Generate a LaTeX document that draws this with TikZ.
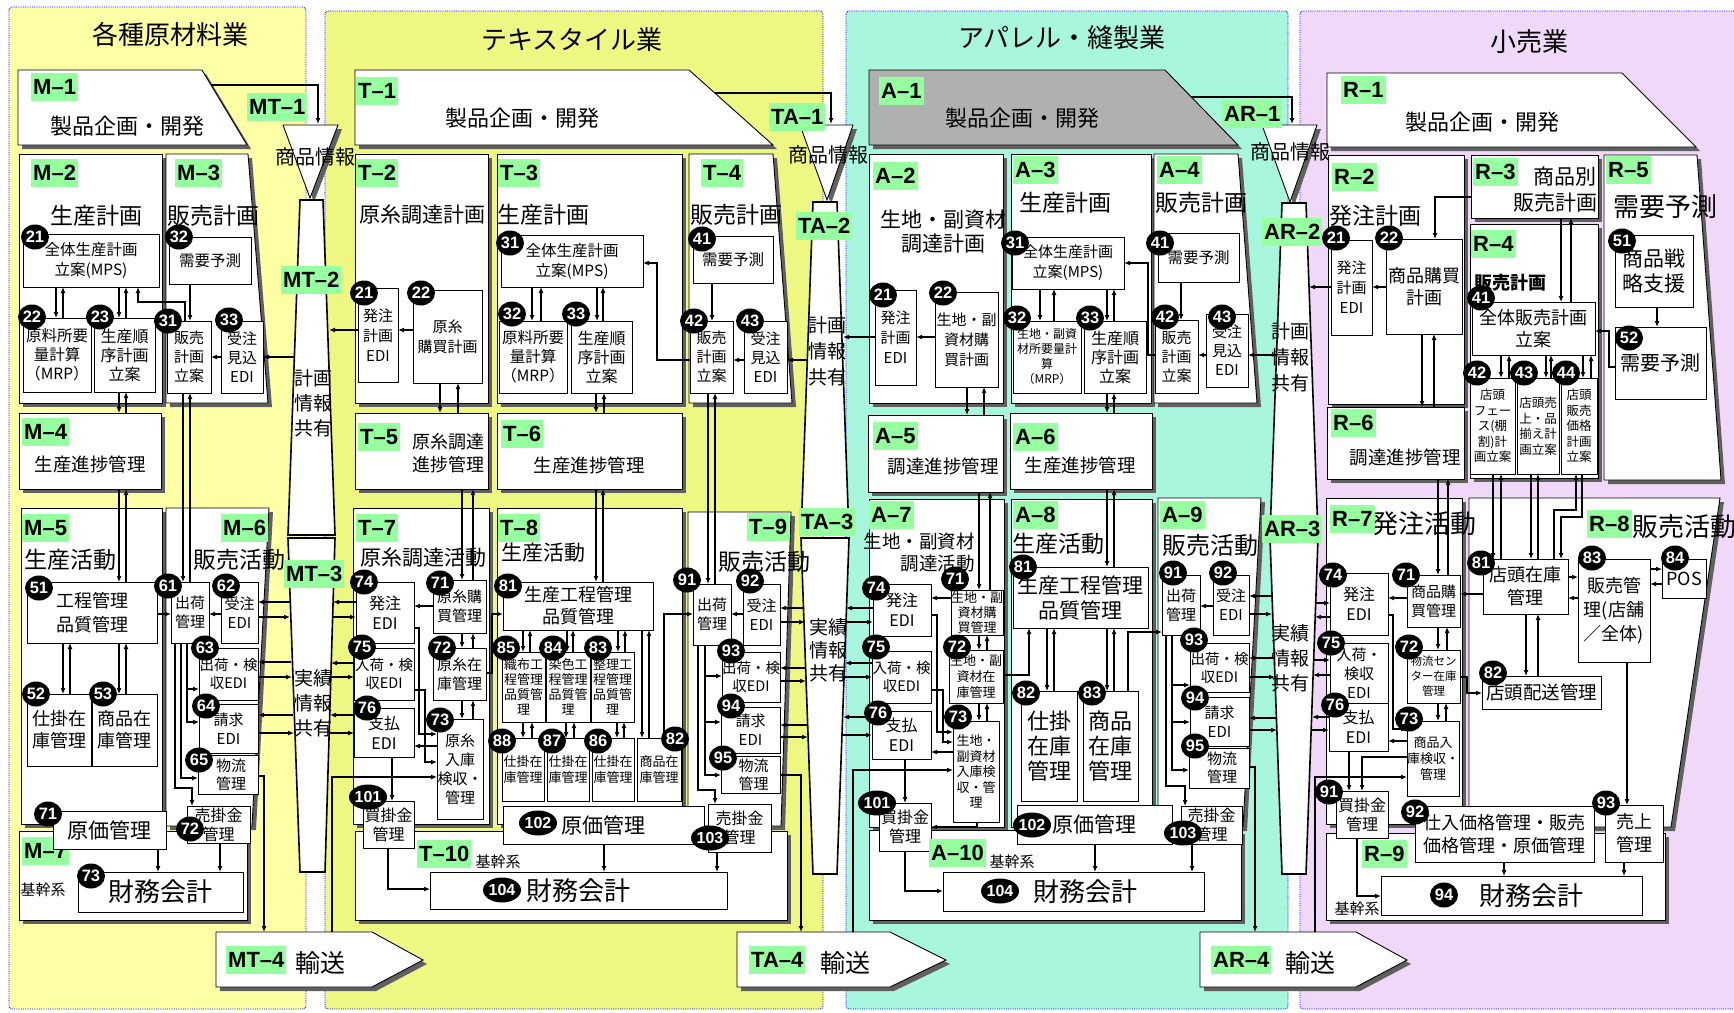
\documentclass[tikz,border=0pt]{standalone}
\usepackage{fontspec}
\setmainfont{Noto Sans CJK JP}
\newfontfamily\labfont{Liberation Sans}
\usetikzlibrary{arrows.meta,shapes.geometric,shadows}
\definecolor{laneA}{RGB}{255,255,165}
\definecolor{laneB}{RGB}{238,247,130}
\definecolor{laneC}{RGB}{168,246,222}
\definecolor{laneD}{RGB}{240,216,248}
\definecolor{lg}{RGB}{150,255,160}
\definecolor{shd}{RGB}{96,96,96}
\definecolor{agray}{RGB}{176,176,176}
\newcommand\fsz[2]{\fontsize{#1pt}{#2pt}\selectfont}
\tikzset{
 bx/.style={draw=black, line width=0.9pt, fill=white, rectangle, inner sep=0pt, outer sep=0pt, align=center},
 sh/.style={drop shadow={shadow xshift=4pt, shadow yshift=-4pt, fill=shd, opacity=1}},
 lbl/.style={fill=lg, font=\labfont\bfseries\fontsize{22pt}{22pt}\selectfont, inner xsep=2pt, inner ysep=0pt, minimum height=28pt, anchor=north west},
 nm/.style={ellipse, fill=black, text=white, font=\labfont\bfseries\fontsize{16.5pt}{16.5pt}\selectfont, inner sep=0pt, minimum width=28pt, minimum height=25pt},
 arr/.style={-{Latex[length=6pt,width=5pt]}, line width=1.2pt},
 colm/.style={draw=black, line width=1.6pt, fill=white},
 tx/.style={inner sep=0pt, align=center},
 lanebd/.style={draw=blue, densely dotted, line width=0.8pt, rounded corners=3pt},
}
\newcommand\bx[7][]{\node[bx,#1,minimum width={#5-#3},minimum height={#6-#4},anchor=north west] (#2) at (#3,#4) {#7};}
\newcommand\shp[2][white]{\fill[shd,shift={(4,4)}] #2; \filldraw[fill=#1,draw=black,line width=0.9pt] #2;}
\newcommand\cnum[4]{\node[nm] (#1) at (#2,#3) {#4};}
\newcommand\cnumw[4]{\node[nm,minimum width=38pt,font=\labfont\bfseries\fontsize{16pt}{16pt}\selectfont] (#1) at (#2,#3) {#4};}
\newcommand\arD[3]{\draw[arr] (#2.south -| #1,0) -- (#3.north -| #1,0);}
\newcommand\arU[3]{\draw[arr] (#3.north -| #1,0) -- (#2.south -| #1,0);}
\newcommand\arP[4]{\arD{#1}{#3}{#4}\arU{#2}{#3}{#4}}
\newcommand\arL[3]{\draw[arr] (#2.west |- 0,#1) -- (#3.east |- 0,#1);}
\newcommand\arR[3]{\draw[arr] (#2.east |- 0,#1) -- (#3.west |- 0,#1);}
\newcommand\gtxt[6]{\node[tx,font=\fsz{#4}{#5}] (#1) at (#2,#3) {#6};}
\newcommand\glab[4]{\node[lbl] (#1) at (#2,#3) {#4};}
\begin{document}
\begin{tikzpicture}[x=1pt,y=-1pt]
\useasboundingbox (0,0) rectangle (1734,1012);
\fill[white] (0,0) rectangle (1734,1012);
% lanes
\fill[laneA,rounded corners=3pt] (9,7) rectangle (306,1009);
\draw[lanebd] (9,7) rectangle (306,1009);
\fill[laneB,rounded corners=3pt] (325,11) rectangle (823,1009);
\draw[lanebd] (325,11) rectangle (823,1009);
\fill[laneC,rounded corners=3pt] (846,11) rectangle (1288,1009);
\draw[lanebd] (846,11) rectangle (1288,1009);
\fill[laneD,rounded corners=3pt] (1300,11) rectangle (1760,1009);
\draw[lanebd] (1300,11) rectangle (1760,1009);
\gtxt{ttlM}{170}{35}{26}{30}{各種原材料業}
\gtxt{ttlT}{572}{40}{26}{30}{テキスタイル業}
\gtxt{ttlA}{1062}{38}{26}{30}{アパレル・縫製業}
\gtxt{ttlR}{1529}{42}{26}{30}{小売業}

% ===== big shapes =====
\shp{(18,70)--(202,70)--(247,145)--(18,145)--cycle}
\shp{(355,70)--(689,70)--(773,145)--(355,145)--cycle}
\shp[agray]{(869,70)--(1165,70)--(1238,145)--(869,145)--cycle}
\shp{(1327,73)--(1622,73)--(1696,147)--(1327,147)--cycle}
\shp{(283,125)--(338,125)--(310,198)--cycle}
\shp{(800,125)--(853,125)--(827,200)--cycle}
\shp{(1262,125)--(1317,125)--(1290,202)--cycle}
\draw[colm] (300,200)--(323,200)--(335,535)--(288,535)--cycle;
\draw[colm] (288,538)--(335,538)--(325,872)--(300,872)--cycle;
\draw[colm] (813,202)--(837,202)--(849,535)--(801,535)--cycle;
\draw[colm] (801,538)--(849,538)--(837,874)--(813,874)--cycle;
\draw[colm] (1282,203)--(1306,203)--(1318,535)--(1270,535)--cycle;
\draw[colm] (1270,538)--(1318,538)--(1306,874)--(1282,874)--cycle;
\shp{(216,932)--(372,932)--(423,960)--(372,987)--(216,987)--cycle}
\shp{(737,932)--(890,932)--(946,960)--(890,987)--(737,987)--cycle}
\shp{(1200,932)--(1356,932)--(1407,960)--(1356,987)--(1200,987)--cycle}

% ===== outer boxes =====
\bx[sh]{M2}{19}{154}{162}{403}{}
\shp{(166,154)--(248,154)--(268,403)--(166,403)--cycle}
\bx[sh]{M4}{19}{413}{161}{489}{}
\bx[sh]{M5}{21}{508}{162}{824}{}
\shp{(166,508)--(269,508)--(252,826)--(166,826)--cycle}
\bx[sh]{M7}{19}{831}{247}{920}{}
\glab{lM7}{22}{837}{M–7}

\bx[sh]{T2}{355}{154}{488}{403}{}
\bx[sh]{T3}{497}{154}{682}{403}{}
\shp{(689,154)--(773,154)--(792,403)--(689,403)--cycle}
\bx[sh]{T5}{355}{413}{488}{489}{}
\bx[sh]{T6}{497}{413}{682}{489}{}
\bx[sh]{T7}{353}{508}{489}{824}{}
\bx[sh]{T8}{497}{508}{682}{824}{}
\shp{(688,512)--(791,512)--(781,826)--(688,826)--cycle}
\bx[sh]{T10}{355}{831}{787}{920}{}

\bx[sh]{A2}{869}{154}{1003}{403}{}
\bx[sh]{A3}{1011}{154}{1151}{403}{}
\shp{(1154,154)--(1238,154)--(1257,403)--(1154,403)--cycle}
\bx[sh]{A5}{868}{415}{1003}{492}{}
\bx[sh]{A6}{1010}{413}{1152}{489}{}
\bx[sh]{A7}{869}{499}{1004}{827}{}
\bx[sh]{A8}{1011}{499}{1152}{827}{}
\shp{(1158,498)--(1261,498)--(1243,827)--(1158,827)--cycle}
\bx[sh]{A10}{869}{830}{1241}{920}{}

\bx[sh]{R2}{1328}{155}{1464}{404}{}
\bx[sh]{R3}{1471}{155}{1598}{218}{}
\bx[sh]{R4}{1470}{224}{1598}{478}{}
\shp{(1604,155)--(1697,155)--(1721,480)--(1604,480)--cycle}
\bx[sh]{R6}{1327}{407}{1464}{479}{}
\bx[sh]{R7}{1326}{498}{1462}{824}{}
\shp{(1469,498)--(1720,498)--(1671,827)--(1469,827)--cycle}
\bx[sh]{R9}{1326}{833}{1665}{920}{}

% ===== inner boxes M =====
\bx[font=\fsz{15.5}{20}]{M21}{23}{234}{159}{287}{全体生産計画\\立案(MPS)}
\bx[font=\fsz{15.5}{20}]{M32}{169}{237}{251}{284}{需要予測}
\bx[font=\fsz{15.5}{19}]{M22}{23}{318}{91}{392}{原料所要\\量計算\\（MRP）}
\bx[font=\fsz{16}{19}]{M23}{94}{318}{155}{392}{生産順\\序計画\\立案}
\bx[font=\fsz{15}{19}]{M31}{167}{321}{211}{393}{販売\\計画\\立案}
\bx[font=\fsz{15}{19}]{M33}{221}{321}{263}{393}{受注\\見込\\EDI}
\bx[font=\fsz{18}{24}]{M51}{27}{582}{157}{643}{工程管理\\品質管理}
\bx[font=\fsz{18}{22}]{M52}{27}{694}{91}{766}{仕掛在\\庫管理}
\bx[font=\fsz{18}{22}]{M53}{92}{694}{157}{766}{商品在\\庫管理}
\bx[font=\fsz{15}{19}]{M61}{171}{582}{209}{643}{出荷\\管理}
\bx[font=\fsz{15}{19}]{M62}{221}{582}{258}{643}{受注\\EDI}
\bx[font=\fsz{14.5}{18}]{M63}{199}{648}{258}{700}{出荷・検\\収EDI}
\bx[font=\fsz{15}{19}]{M64}{199}{704}{258}{753}{請求\\EDI}
\bx[font=\fsz{15}{18}]{M65}{198}{755}{258}{794}{\hspace*{6pt}物流\\\hspace*{6pt}管理}
\bx[font=\fsz{16}{19}]{M72}{187}{806}{250}{843}{売掛金\\管理}
\bx[font=\fsz{21}{24}]{M71}{53}{811}{166}{849}{原価管理}
\bx[font=\fsz{26}{30}]{M73}{78}{872}{243}{912}{財務会計}

% ===== inner boxes T =====
\bx[font=\fsz{15}{20}]{T21}{358}{288}{398}{382}{発注\\計画\\EDI}
\bx[font=\fsz{15}{20}]{T22}{413}{290}{482}{383}{原糸\\購買計画}
\bx[font=\fsz{15.5}{20}]{T31}{501}{235}{643}{287}{全体生産計画\\立案(MPS)}
\bx[font=\fsz{15.5}{19}]{T32}{499}{321}{567}{393}{原料所要\\量計算\\（MRP）}
\bx[font=\fsz{16}{19}]{T33}{571}{321}{632}{393}{生産順\\序計画\\立案}
\bx[font=\fsz{15.5}{20}]{T41}{693}{236}{773}{283}{需要予測}
\bx[font=\fsz{15}{19}]{T42}{690}{321}{733}{393}{販売\\計画\\立案}
\bx[font=\fsz{15}{19}]{T43}{744}{321}{787}{393}{受注\\見込\\EDI}
\bx[font=\fsz{16}{20}]{T74}{356}{582}{414}{643}{発注\\EDI}
\bx[font=\fsz{15}{19}]{T71}{433}{580}{486}{633}{原糸購\\買管理}
\bx[font=\fsz{14.5}{18}]{T75}{354}{648}{414}{700}{入荷・検\\収EDI}
\bx[font=\fsz{16}{20}]{T76}{354}{708}{414}{757}{支払\\EDI}
\bx[font=\fsz{15}{19}]{T72}{433}{648}{486}{700}{原糸在\\庫管理}
\bx[font=\fsz{15}{19}]{T73}{437}{719}{483}{819}{原糸\\入庫\\検収・\\管理}
\bx[font=\fsz{16}{19}]{T101}{363}{801}{414}{848}{買掛金\\管理}
\bx[font=\fsz{21}{24}]{T102}{503}{806}{704}{844}{原価管理}
\bx[font=\fsz{16}{19}]{T103}{708}{804}{771}{852}{売掛金\\管理}
\bx[font=\fsz{26}{30}]{T104}{430}{872}{727}{909}{財務会計}
\bx[font=\fsz{18}{22}]{T81}{503}{582}{653}{630}{生産工程管理\\品質管理}
\bx[font=\fsz{13}{15}]{T85}{502}{652}{545}{722}{織布工\\程管理\\品質管\\理}
\bx[font=\fsz{13}{15}]{T84}{546}{652}{590}{722}{染色工\\程管理\\品質管\\理}
\bx[font=\fsz{13}{15}]{T83}{591}{652}{634}{722}{整理工\\程管理\\品質管\\理}
\bx[font=\fsz{13}{16}]{T88}{502}{738}{544}{801}{仕掛在\\庫管理}
\bx[font=\fsz{13}{16}]{T87}{547}{738}{589}{801}{仕掛在\\庫管理}
\bx[font=\fsz{13}{16}]{T86}{592}{738}{634}{801}{仕掛在\\庫管理}
\bx[font=\fsz{13}{16}]{T82}{637}{738}{681}{801}{商品在\\庫管理}
\bx[font=\fsz{15}{19}]{T91}{693}{584}{731}{645}{出荷\\管理}
\bx[font=\fsz{15}{19}]{T92}{743}{584}{780}{645}{受注\\EDI}
\bx[font=\fsz{14.5}{18}]{T93}{722}{652}{779}{702}{出荷・検\\収EDI}
\bx[font=\fsz{15}{19}]{T94}{721}{707}{780}{753}{請求\\EDI}
\bx[font=\fsz{15}{18}]{T95}{721}{756}{780}{793}{\hspace*{6pt}物流\\\hspace*{6pt}管理}

% ===== inner boxes A =====
\bx[font=\fsz{15}{20}]{A21}{875}{290}{916}{385}{発注\\計画\\EDI}
\bx[font=\fsz{15}{20}]{A22}{935}{292}{998}{387}{生地・副\\資材購\\買計画}
\bx[font=\fsz{15}{20}]{A31}{1012}{237}{1124}{289}{全体生産計画\\立案(MPS)}
\bx[font=\fsz{12}{15}]{A32}{1013}{321}{1081}{393}{生地・副資\\材所要量計\\算\\（MRP）}
\bx[font=\fsz{16}{19}]{A33}{1084}{321}{1146}{393}{生産順\\序計画\\立案}
\bx[font=\fsz{15.5}{20}]{A41}{1158}{233}{1239}{282}{需要予測}
\bx[font=\fsz{15}{19}]{A42}{1155}{320}{1198}{393}{販売\\計画\\立案}
\bx[font=\fsz{15}{19}]{A43}{1206}{314}{1248}{387}{受注\\見込\\EDI}
\bx[font=\fsz{16}{20}]{A74}{873}{584}{931}{636}{発注\\EDI}
\bx[font=\fsz{13}{15}]{A71}{951}{590}{1003}{635}{生地・副\\資材購\\買管理}
\bx[font=\fsz{13}{16}]{A72}{949}{650}{1003}{703}{生地・副\\資材在\\庫管理}
\bx[font=\fsz{14.5}{18}]{A75}{872}{651}{931}{703}{入荷・検\\収EDI}
\bx[font=\fsz{16}{20}]{A76}{872}{711}{931}{759}{支払\\EDI}
\bx[font=\fsz{13}{15.5}]{A73}{953}{721}{999}{822}{生地・\\副資材\\入庫検\\収・管\\理}
\bx[font=\fsz{16}{19}]{A101}{879}{803}{931}{851}{買掛金\\管理}
\bx[font=\fsz{21}{24}]{A102}{1017}{805}{1172}{844}{原価管理}
\bx[font=\fsz{16}{19}]{A103}{1181}{806}{1242}{844}{売掛金\\管理}
\bx[font=\fsz{26}{30}]{A104}{943}{872}{1204}{911}{\hspace*{24pt}財務会計}
\bx[font=\fsz{21}{25}]{A81}{1013}{567}{1148}{628}{生産工程管理\\品質管理}
\bx[font=\fsz{22}{25}]{A82}{1021}{691}{1077}{801}{仕掛\\在庫\\管理}
\bx[font=\fsz{22}{25}]{A83}{1083}{691}{1138}{801}{商品\\在庫\\管理}
\bx[font=\fsz{15}{19}]{A91}{1162}{575}{1200}{635}{出荷\\管理}
\bx[font=\fsz{15}{19}]{A92}{1213}{575}{1249}{635}{受注\\EDI}
\bx[font=\fsz{14.5}{18}]{A93}{1190}{643}{1249}{692}{出荷・検\\収EDI}
\bx[font=\fsz{15}{19}]{A94}{1190}{697}{1249}{746}{請求\\EDI}
\bx[font=\fsz{15}{18}]{A95}{1189}{748}{1249}{788}{\hspace*{6pt}物流\\\hspace*{6pt}管理}

% ===== inner boxes R =====
\bx[font=\fsz{15}{20}]{R21}{1331}{240}{1372}{335}{発注\\計画\\EDI}
\bx[font=\fsz{18}{22}]{R22}{1386}{239}{1462}{334}{商品購買\\計画}
\bx[font=\fsz{18}{22}]{R41}{1472}{302}{1595}{355}{全体販売計画\\立案}
\bx[font=\fsz{12.5}{15.5}]{R42}{1470}{378}{1515}{474}{店頭\\フェー\\ス(棚\\割)計\\画立案}
\bx[font=\fsz{12.5}{15.5}]{R43}{1517}{378}{1559}{474}{店頭売\\上・品\\揃え計\\画立案}
\bx[font=\fsz{12.5}{15.5}]{R44}{1561}{378}{1597}{474}{店頭\\販売\\価格\\計画\\立案}
\bx[font=\fsz{21}{25}]{R51}{1615}{235}{1693}{307}{商品戦\\略支援}
\bx[font=\fsz{20}{24}]{R52}{1615}{327}{1706}{399}{需要予測}
\bx[font=\fsz{16}{20}]{R74}{1330}{573}{1388}{635}{発注\\EDI}
\bx[font=\fsz{15}{19}]{R71}{1407}{575}{1460}{627}{商品購\\買管理}
\bx[font=\fsz{15}{19}]{R75}{1330}{643}{1388}{703}{入荷・\\検収\\EDI}
\bx[font=\fsz{11.5}{15}]{R72}{1407}{650}{1460}{703}{物流セン\\ター在庫\\管理}
\bx[font=\fsz{16}{20}]{R76}{1329}{703}{1388}{751}{支払\\EDI}
\bx[font=\fsz{13}{16}]{R73}{1407}{721}{1457}{796}{商品入\\庫検収・\\管理}
\bx[font=\fsz{16}{19}]{R91}{1336}{791}{1388}{838}{買掛金\\管理}
\bx[font=\fsz{18}{23}]{R81}{1483}{559}{1568}{614}{店頭在庫\\管理}
\bx[font=\fsz{18}{24}]{R83}{1578}{559}{1650}{662}{販売管\\理(店舗\\／全体)}
\bx[font=\fsz{18}{22}]{R84}{1662}{559}{1706}{598}{POS}
\bx[font=\fsz{18.5}{22}]{R82}{1482}{676}{1601}{709}{店頭配送管理}
\bx[font=\fsz{18}{23}]{R92}{1415}{806}{1594}{862}{仕入価格管理・販売\\価格管理・原価管理}
\bx[font=\fsz{18}{23}]{R93}{1605}{805}{1663}{862}{売上\\管理}
\bx[font=\fsz{26}{30}]{R94}{1381}{876}{1642}{915}{\hspace*{40pt}財務会計}

% ===== connectors M =====
\coordinate (mt1a) at (211,85); \coordinate (mt1b) at (318,124);
\draw[arr] (mt1a) -| (mt1b);
\arP{56}{63}{M21}{M22}
\arP{119}{126}{M21}{M23}
\draw[arr] (M31.north -| 185,0) |- (138,302) -- (M21.south -| 138,0);
\arD{190}{M32}{M31}
\arL{357}{M33}{M31}
\draw[arr] (294,357) -- (M33.east |- 0,357);
\arP{119}{126}{M23}{M4}
\arP{119}{126}{M4}{M51}
\arP{183}{190}{M31}{M61}
\arR{614}{M51}{M61}
\arP{63}{70}{M51}{M52}
\arP{119}{126}{M51}{M53}
\arL{614}{M62}{M61}
\draw[arr] (290,602) -- (M62.east |- 0,602);
\draw[arr] (M62.east |- 0,617) -- (290,617);
\draw[arr] (291,662) -- (M63.east |- 0,662);
\draw[arr] (M63.east |- 0,677) -- (292,677);
\draw[arr] (293,715) -- (M64.east |- 0,715);
\draw[arr] (M64.east |- 0,733) -- (294,733);
\coordinate (mt4a) at (264,932);
\draw[arr] (M65.east |- 0,776) -| (mt4a);
\draw[arr] (M61.south -| 187,0) |- (M63.west |- 0,689);
\draw[arr] (M61.south -| 187,0) |- (M64.west |- 0,722);
\draw[arr] (M61.south -| 181,0) |- (M65.west |- 0,778);
\draw[arr] (M61.south -| 175,0) |- (192,788) -- (M72.north -| 192,0);
\arD{158}{M71}{M73}
\arD{220}{M72}{M73}

% ===== connectors T =====
\coordinate (ta1a) at (715,93); \coordinate (ta1b) at (831,124);
\draw[arr] (ta1a) -| (ta1b);
\arL{330}{T22}{T21}
\draw[arr] (T21.west |- 0,330) -- (329,330);
\arP{440}{458}{T22}{T5}
\arP{532}{541}{T31}{T32}
\arP{597}{603}{T31}{T33}
\arD{712}{T41}{T42}
\arL{360}{T43}{T42}
\draw[arr] (808,360) -- (T43.east |- 0,360);
\draw[arr] (T42.west |- 0,360) -| (657,263) -- (T31.east |- 0,263);
\arP{596}{604}{T33}{T6}
\arP{708}{715}{T42}{T91}
\arP{462}{473}{T5}{T71}
\arP{596}{603}{T6}{T81}
\arL{606}{T71}{T74}
\draw[arr] (T74.west |- 0,602) -- (333,602);
\draw[arr] (333,617) -- (T74.west |- 0,617);
\draw[arr] (T75.west |- 0,663) -- (331,663);
\draw[arr] (331,677) -- (T75.west |- 0,677);
\draw[arr] (T76.west |- 0,715) -- (330,715);
\draw[arr] (329,733) -- (T76.west |- 0,733);
\arP{462}{473}{T71}{T72}
\arP{462}{473}{T72}{T73}
\draw[arr] (T74.east |- 0,628) -| (419,734) -- (T73.west |- 0,734);
\draw[arr] (T75.east |- 0,690) -| (425,762) -- (T73.west |- 0,762);
\arL{746}{T73}{T76}
\coordinate (mt4b) at (332,932);
\draw[arr] (mt4b) |- (T73.west |- 0,777);
\arD{392}{T76}{T101}
\arD{604}{T102}{T104}
\arD{717}{T103}{T104}
\draw[arr] (T101.south -| 388,0) |- (T104.west |- 0,889);
\draw[arr] (T72.east |- 0,673) -| (492,614) -- (T81.west |- 0,614);
\arP{523}{530}{T81}{T85}
\arP{567}{573}{T81}{T84}
\arP{618}{625}{T81}{T83}
\arP{523}{532}{T85}{T88}
\arP{566}{574}{T84}{T87}
\arP{617}{624}{T83}{T86}
\arP{642}{649}{T81}{T82}
\draw[arr] (T82.north -| 664,0) |- (T91.west |- 0,614);
\arL{614}{T92}{T91}
\draw[arr] (804,608) -- (T92.east |- 0,608);
\draw[arr] (T92.east |- 0,622) -- (805,622);
\draw[arr] (805,668) -- (T93.east |- 0,668);
\draw[arr] (T93.east |- 0,681) -- (806,681);
\draw[arr] (807,725) -- (T94.east |- 0,725);
\draw[arr] (T94.east |- 0,737) -- (808,737);
\coordinate (ta4a) at (801,932);
\draw[arr] (T95.east |- 0,775) -| (ta4a);
\draw[arr] (T91.south -| 705,0) |- (T93.west |- 0,676);
\draw[arr] (T91.south -| 705,0) |- (T94.west |- 0,722);
\draw[arr] (T91.south -| 705,0) |- (T95.west |- 0,775);
\draw[arr] (T91.south -| 698,0) |- (715,790) -- (T103.north -| 715,0);

% ===== connectors A =====
\coordinate (ar1a) at (1191,97); \coordinate (ar1b) at (1292,124);
\draw[arr] (ar1a) -| (ar1b);
\arL{337}{A22}{A21}
\draw[arr] (A21.west |- 0,337) -- (843,337);
\arP{1040}{1054}{A31}{A32}
\arP{1107}{1114}{A31}{A33}
\arD{1181}{A41}{A42}
\arL{355}{A43}{A42}
\draw[arr] (1277,355) -- (A43.east |- 0,355);
\draw[arr] (A42.west |- 0,355) -| (1148,263) -- (A31.east |- 0,263);
\arP{967}{984}{A22}{A5}
\arP{1107}{1114}{A33}{A6}
\arP{979}{990}{A5}{A71}
\arP{1107}{1114}{A6}{A81}
\arL{598}{A71}{A74}
\draw[arr] (A74.west |- 0,608) -- (846,608);
\draw[arr] (847,622) -- (A74.west |- 0,622);
\draw[arr] (A75.west |- 0,663) -- (845,663);
\draw[arr] (845,677) -- (A75.west |- 0,677);
\draw[arr] (A76.west |- 0,717) -- (843,717);
\draw[arr] (842,735) -- (A76.west |- 0,735);
\arP{979}{987}{A71}{A72}
\arP{979}{987}{A72}{A73}
\draw[arr] (A74.east |- 0,615) -| (937,732) -- (A73.west |- 0,732);
\draw[arr] (A75.east |- 0,690) -| (943,742) -- (A73.west |- 0,742);
\arL{752}{A73}{A76}
\coordinate (ta4b) at (853,932);
\draw[arr] (ta4b) |- (A73.west |- 0,770);
\arD{905}{A76}{A101}
\draw[arr] (A73.south -| 977,0) |- (A101.east |- 0,827);
\arD{1095}{A102}{A104}
\arD{1192}{A103}{A104}
\draw[arr] (A101.south -| 905,0) |- (A104.west |- 0,891);
\draw[arr] (A72.east |- 0,675) -| (A81.south -| 1029,0);
\arP{1047}{1054}{A81}{A82}
\arP{1107}{1114}{A81}{A83}
\draw[arr] (A83.north -| 1128,0) |- (A91.west |- 0,632);
\arL{606}{A92}{A91}
\draw[arr] (1272,596) -- (A92.east |- 0,596);
\draw[arr] (A92.east |- 0,614) -- (1272,614);
\draw[arr] (1274,658) -- (A93.east |- 0,658);
\draw[arr] (A93.east |- 0,677) -- (1275,677);
\draw[arr] (1276,718) -- (A94.east |- 0,718);
\draw[arr] (A94.east |- 0,730) -- (1277,730);
\coordinate (ar4a) at (1255,932);
\draw[arr] (A95.east |- 0,767) -| (ar4a);
\draw[arr] (A91.south -| 1172,0) |- (A93.west |- 0,685);
\draw[arr] (A91.south -| 1172,0) |- (A94.west |- 0,722);
\draw[arr] (A91.south -| 1172,0) |- (A95.west |- 0,770);
\draw[arr] (A91.south -| 1166,0) |- (1185,786) -- (A103.north -| 1185,0);

% ===== connectors R =====
\arL{287}{R22}{R21}
\draw[arr] (R21.west |- 0,287) -- (1309,287);
\draw[arr] (R3.west |- 0,197) -| (R22.north -| 1435,0);
\arP{1561}{1571}{R3}{R41}
\arD{1657}{R51}{R52}
\draw[arr] (R52.west |- 0,367) -| (1609,331) -- (R41.east |- 0,331);
\arP{1501}{1509}{R41}{R42}
\arP{1546}{1551}{R41}{R43}
\arP{1583}{1591}{R41}{R44}
\arP{1422}{1434}{R22}{R6}
\arP{1438}{1448}{R6}{R71}
\arL{598}{R71}{R74}
\draw[arr] (1316,603) -- (R74.west |- 0,603);
\draw[arr] (R74.west |- 0,617) -- (1315,617);
\draw[arr] (1314,660) -- (R75.west |- 0,660);
\draw[arr] (R75.west |- 0,675) -- (1313,675);
\draw[arr] (R76.west |- 0,717) -- (1312,717);
\draw[arr] (1311,730) -- (R76.west |- 0,730);
\arP{1438}{1447}{R71}{R72}
\arP{1438}{1446}{R72}{R73}
\arL{741}{R73}{R76}
\draw[arr] (R74.east |- 0,615) -| (1393,729) -- (R73.west |- 0,729);
\arD{1349}{R76}{R91}
\draw[arr] (R73.west |- 0,757) -| (R91.north -| 1362,0);
\coordinate (ar4b) at (1315,932);
\draw[arr] (ar4b) |- (R73.west |- 0,777);
\arL{594}{R81}{R71}
\arR{577}{R81}{R83}
\arL{598}{R83}{R81}
\arR{569}{R83}{R84}
\arL{584}{R84}{R83}
\arP{1526}{1538}{R81}{R82}
\draw[arr] (R72.east |- 0,677) -| (1467,693) -- (R82.west |- 0,693);
\arP{1493}{1501}{R42}{R81}
\arP{1531}{1538}{R43}{R81}
\draw[arr] (R44.south -| 1582,0) |- (1561,517) -- (R81.north -| 1561,0);
\draw[arr] (R81.north -| 1554,0) |- (1576,510) -- (R44.south -| 1576,0);
\arD{1627}{R83}{R93}
\arD{1504}{R92}{R94}
\arD{1624}{R93}{R94}
\draw[arr] (R91.south -| 1357,0) |- (R94.west |- 0,896);

% ===== number circles =====
\cnum{cM21}{35}{237}{21}\cnum{cM32}{179}{237}{32}\cnum{cM22}{32}{317}{22}\cnum{cM23}{100}{317}{23}
\cnum{cM31}{168}{321}{31}\cnum{cM33}{229}{320}{33}\cnum{cM51}{39}{588}{51}\cnum{cM52}{36}{694}{52}
\cnum{cM53}{103}{694}{53}\cnum{cM61}{168}{586}{61}\cnum{cM62}{226}{586}{62}\cnum{cM63}{205}{648}{63}
\cnum{cM64}{206}{706}{64}\cnum{cM65}{199}{760}{65}\cnum{cM72}{190}{829}{72}\cnum{cM71}{48}{814}{71}
\cnum{cM73}{91}{876}{73}
\cnum{cT21}{364}{293}{21}\cnum{cT22}{421}{293}{22}\cnum{cT31}{510}{243}{31}\cnum{cT32}{512}{314}{32}
\cnum{cT33}{576}{314}{33}\cnum{cT41}{702}{239}{41}\cnum{cT42}{694}{321}{42}\cnum{cT43}{750}{321}{43}
\cnum{cT74}{364}{582}{74}\cnum{cT71}{440}{583}{71}\cnum{cT75}{362}{647}{75}\cnum{cT72}{442}{648}{72}
\cnum{cT76}{367}{708}{76}\cnum{cT73}{440}{720}{73}
\cnumw{cT101}{368}{797}{101}\cnumw{cT102}{538}{823}{102}\cnumw{cT103}{710}{838}{103}\cnumw{cT104}{502}{890}{104}
\cnum{cT81}{508}{586}{81}\cnum{cT85}{506}{648}{85}\cnum{cT84}{553}{648}{84}\cnum{cT83}{598}{648}{83}
\cnum{cT88}{502}{741}{88}\cnum{cT87}{552}{741}{87}\cnum{cT86}{598}{741}{86}\cnum{cT82}{675}{739}{82}
\cnum{cT91}{687}{580}{91}\cnum{cT92}{750}{581}{92}\cnum{cT93}{731}{651}{93}\cnum{cT94}{731}{706}{94}
\cnum{cT95}{723}{758}{95}
\cnum{cA21}{883}{295}{21}\cnum{cA22}{943}{293}{22}\cnum{cA31}{1015}{243}{31}\cnum{cA32}{1017}{318}{32}
\cnum{cA33}{1090}{318}{33}\cnum{cA41}{1160}{243}{41}\cnum{cA42}{1165}{317}{42}\cnum{cA43}{1222}{317}{43}
\cnum{cA74}{876}{588}{74}\cnum{cA71}{955}{579}{71}\cnum{cA72}{957}{647}{72}\cnum{cA75}{876}{647}{75}
\cnum{cA76}{878}{713}{76}\cnum{cA73}{958}{717}{73}
\cnumw{cA101}{877}{803}{101}\cnumw{cA102}{1032}{825}{102}\cnumw{cA103}{1183}{833}{103}\cnumw{cA104}{1000}{891}{104}
\cnum{cA81}{1023}{567}{81}\cnum{cA82}{1026}{693}{82}\cnum{cA83}{1092}{693}{83}\cnum{cA91}{1173}{573}{91}
\cnum{cA92}{1223}{573}{92}\cnum{cA93}{1194}{640}{93}\cnum{cA94}{1195}{698}{94}\cnum{cA95}{1195}{746}{95}
\cnum{cR21}{1336}{238}{21}\cnum{cR22}{1389}{238}{22}\cnum{cR41}{1481}{298}{41}\cnum{cR42}{1477}{373}{42}
\cnum{cR43}{1524}{373}{43}\cnum{cR44}{1566}{373}{44}\cnum{cR51}{1622}{241}{51}\cnum{cR52}{1629}{338}{52}
\cnum{cR74}{1333}{575}{74}\cnum{cR71}{1406}{575}{71}\cnum{cR75}{1331}{643}{75}\cnum{cR72}{1409}{647}{72}
\cnum{cR76}{1335}{705}{76}\cnum{cR73}{1409}{719}{73}\cnum{cR91}{1329}{792}{91}\cnum{cR81}{1481}{563}{81}
\cnum{cR83}{1592}{558}{83}\cnum{cR84}{1675}{558}{84}\cnum{cR82}{1493}{673}{82}\cnum{cR92}{1415}{812}{92}
\cnum{cR93}{1606}{803}{93}\cnum{cR94}{1444}{895}{94}

% ===== group texts =====
\gtxt{xM1}{127}{126}{22}{26}{製品企画・開発}
\gtxt{xMT1}{315}{157}{20}{24}{商品情報}
\gtxt{xMT2}{313}{403}{19}{25}{計画\\情報\\共有}
\gtxt{xMT3}{313}{703}{19}{25}{実績\\情報\\共有}
\gtxt{xMT4}{320}{963}{25}{28}{輸送}
\gtxt{xM2}{96}{216}{23}{27}{生産計画}
\gtxt{xM3}{213}{216}{23}{27}{販売計画}
\gtxt{xM4}{90}{464}{18.5}{22}{生産進捗管理}
\gtxt{xM5}{70}{560}{23}{27}{生産活動}
\gtxt{xM6}{239}{560}{23}{27}{販売活動}
\gtxt{xM7}{43}{890}{15}{18}{基幹系}

\gtxt{xT1}{522}{118}{22}{26}{製品企画・開発}
\gtxt{xTA1}{828}{155}{20}{24}{商品情報}
\gtxt{xTA2}{827}{351}{19}{26}{計画\\情報\\共有}
\gtxt{xTA3}{828}{650}{19}{23}{実績\\情報\\共有}
\gtxt{xTA4}{845}{963}{25}{28}{輸送}
\gtxt{xT2}{422}{215}{21}{25}{原糸調達計画}
\gtxt{xT3}{543}{215}{23}{27}{生産計画}
\gtxt{xT4}{736}{215}{23}{27}{販売計画}
\gtxt{xT5}{448}{453}{18}{23}{原糸調達\\進捗管理}
\gtxt{xT6}{589}{465}{18.5}{22}{生産進捗管理}
\gtxt{xT7}{423}{558}{21}{25}{原糸調達活動}
\gtxt{xT8}{543}{553}{21}{25}{生産活動}
\gtxt{xT9}{764}{562}{23}{27}{販売活動}
\gtxt{xT10}{498}{862}{15}{18}{基幹系}

\gtxt{xA1}{1022}{118}{22}{26}{製品企画・開発}
\gtxt{xAR1}{1290}{152}{20}{24}{商品情報}
\gtxt{xAR2}{1290}{357}{19}{26}{計画\\情報\\共有}
\gtxt{xAR3}{1290}{658}{19}{25}{実績\\情報\\共有}
\gtxt{xAR4}{1310}{963}{25}{28}{輸送}
\gtxt{xA2}{943}{232}{21}{24}{生地・副資材\\調達計画}
\gtxt{xA3}{1065}{203}{23}{27}{生産計画}
\gtxt{xA4}{1201}{203}{23}{27}{販売計画}
\gtxt{xA5}{943}{466}{18.5}{22}{調達進捗管理}
\gtxt{xA6}{1080}{465}{18.5}{22}{生産進捗管理}
\node[tx,align=right,anchor=east,font=\fsz{18.5}{22}] (xA7) at (975,553) {生地・副資材\\調達活動};
\gtxt{xA8}{1058}{544}{23}{27}{生産活動}
\gtxt{xA9}{1210}{545}{24}{28}{販売活動}
\gtxt{xA10}{1012}{862}{15}{18}{基幹系}

\gtxt{xR1}{1482}{122}{22}{26}{製品企画・開発}
\gtxt{xR2}{1375}{216}{23}{27}{発注計画}
\gtxt{xR3a}{1565}{177}{21}{25}{商品別}
\gtxt{xR3b}{1555}{203}{21}{25}{販売計画}
\gtxt{xR4}{1510}{283}{18}{22}{\bfseries 販売計画}
\gtxt{xR5}{1665}{207}{26}{30}{需要予測}
\gtxt{xR6}{1405}{457}{18.5}{22}{調達進捗管理}
\gtxt{xR7}{1424}{524}{26}{30}{発注活動}
\node[tx,anchor=west,font=\fsz{26}{30}] (xR8) at (1632,527) {販売活動};
\gtxt{xR9}{1357}{909}{15}{18}{基幹系}

% ===== green labels =====
\glab{lM1}{31}{73}{M–1}\glab{lMT1}{247}{93}{MT–1}\glab{lMT2}{281}{266}{MT–2}\glab{lMT3}{284}{560}{MT–3}
\glab{lMT4}{226}{946}{MT–4}\glab{lM2}{31}{159}{M–2}\glab{lM3}{175}{159}{M–3}\glab{lM4}{22}{418}{M–4}
\glab{lM5}{22}{514}{M–5}\glab{lM6}{221}{514}{M–6}
\glab{lT1}{356}{77}{T–1}\glab{lTA1}{769}{103}{TA–1}\glab{lTA2}{796}{212}{TA–2}\glab{lTA3}{799}{508}{TA–3}
\glab{lTA4}{749}{946}{TA–4}\glab{lT2}{356}{159}{T–2}\glab{lT3}{498}{159}{T–3}\glab{lT4}{701}{159}{T–4}
\glab{lT5}{358}{423}{T–5}\glab{lT6}{501}{420}{T–6}\glab{lT7}{356}{514}{T–7}\glab{lT8}{498}{514}{T–8}
\glab{lT9}{747}{513}{T–9}\glab{lT10}{417}{840}{T–10}
\glab{lA1}{879}{77}{A–1}\glab{lAR1}{1222}{100}{AR–1}\glab{lAR2}{1262}{218}{AR–2}\glab{lAR3}{1262}{515}{AR–3}
\glab{lAR4}{1211}{946}{AR–4}\glab{lA2}{873}{162}{A–2}\glab{lA3}{1013}{156}{A–3}\glab{lA4}{1157}{156}{A–4}
\glab{lA5}{873}{422}{A–5}\glab{lA6}{1013}{423}{A–6}\glab{lA7}{869}{501}{A–7}\glab{lA8}{1013}{501}{A–8}
\glab{lA9}{1160}{501}{A–9}\glab{lA10}{929}{839}{A–10}
\glab{lR1}{1341}{76}{R–1}\glab{lR2}{1332}{163}{R–2}\glab{lR3}{1473}{158}{R–3}\glab{lR4}{1471}{230}{R–4}
\glab{lR5}{1606}{156}{R–5}\glab{lR6}{1331}{409}{R–6}\glab{lR7}{1330}{505}{R–7}\glab{lR8}{1587}{510}{R–8}
\glab{lR9}{1362}{840}{R–9}
\end{tikzpicture}
\end{document}
